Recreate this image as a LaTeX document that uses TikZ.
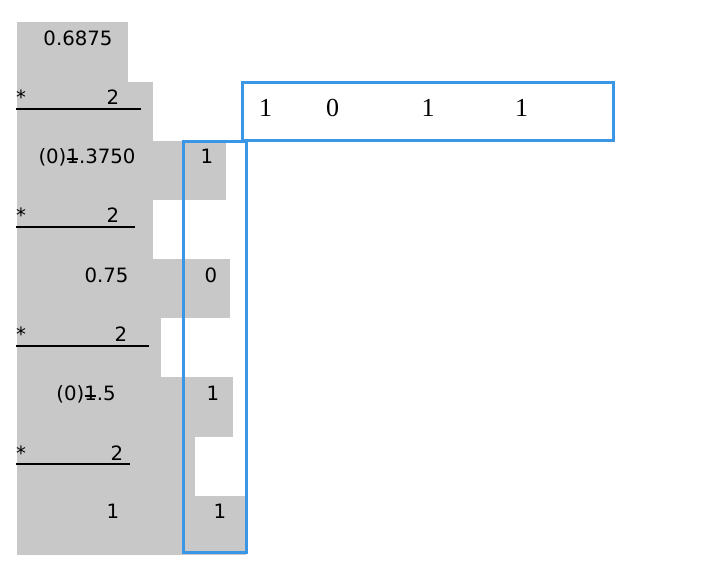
\documentclass[tikz,border=0pt]{standalone}
\usepackage{fontspec}
\setmainfont{DejaVu Sans}
\newfontfamily\bitserif{Liberation Serif}
\definecolor{rowgray}{HTML}{C8C8C8}
\definecolor{bitblue}{HTML}{3C96E6}
\tikzset{
  num/.style={font=\fontsize{14.8}{16}\selectfont, inner sep=0pt, anchor=base},
  bit/.style={num},
  topbit/.style={font=\bitserif\fontsize{19.5}{22}\selectfont, inner sep=0pt, anchor=base},
  rowbox/.style={fill=rowgray, draw=none},
  bitframe/.style={draw=bitblue, line width=2.25pt},
  mulrule/.style={draw=black, line width=1.5pt},
}
\newcommand{\strikeone}{\rlap{\hspace{0.02em}\rule[0.22em]{0.56em}{0.075em}}1}

\begin{document}
\begin{tikzpicture}[x=0.75pt, y=-0.75pt]
    \useasboundingbox (0,0) rectangle (703,580);
    % grey rows
    \fill[rowbox] (17,22) rectangle (128,82);
    \fill[rowbox] (17,82) rectangle (153,141);
    \fill[rowbox] (17,141) rectangle (226,200);
    \fill[rowbox] (17,200) rectangle (153,259);
    \fill[rowbox] (17,259) rectangle (230,318);
    \fill[rowbox] (17,318) rectangle (161,377);
    \fill[rowbox] (17,377) rectangle (233,437);
    \fill[rowbox] (17,437) rectangle (195,496);
    \fill[rowbox] (17,496) rectangle (246,555);
    % products
    \node[num] (p0) at (78,46) {0.6875};
    \node[num] (p1) at (87,164) {(0)\strikeone.3750};
    \node[num] (p2) at (106.5,283) {0.75};
    \node[num] (p3) at (86,401) {(0)\strikeone.5};
    \node[num] (p4) at (113,518.5) {1};
    % multipliers
    \node[num] (s1) at (21,105) {*};
    \node[num] (m1) at (113,105) {2};
    \node[num] (s2) at (21,223) {*};
    \node[num] (m2) at (113,223) {2};
    \node[num] (s3) at (21,342) {*};
    \node[num] (m3) at (121,342) {2};
    \node[num] (s4) at (21,460) {*};
    \node[num] (m4) at (117,460) {2};
    \draw[mulrule] (16,109) -- (141,109);
    \draw[mulrule] (16,226.7) -- (135,226.7);
    \draw[mulrule] (16,345.7) -- (149,345.7);
    \draw[mulrule] (16,463.7) -- (130,463.7);
    % integer parts
    \node[bit] (b1) at (207,164) {1};
    \node[bit] (b2) at (211,283) {0};
    \node[bit] (b3) at (213,401) {1};
    \node[bit] (b4) at (220,518.5) {1};
    % result
    \node[topbit] (r1) at (265.7,116.7) {1};
    \node[topbit] (r2) at (332.7,116.7) {0};
    \node[topbit] (r3) at (428,116.7) {1};
    \node[topbit] (r4) at (521.7,116.7) {1};
    \draw[bitframe] (183.5,141.5) rectangle (246.5,552.5);
    \draw[bitframe] (242.5,82.5) rectangle (613.3,140.7);
\end{tikzpicture}
\end{document}
